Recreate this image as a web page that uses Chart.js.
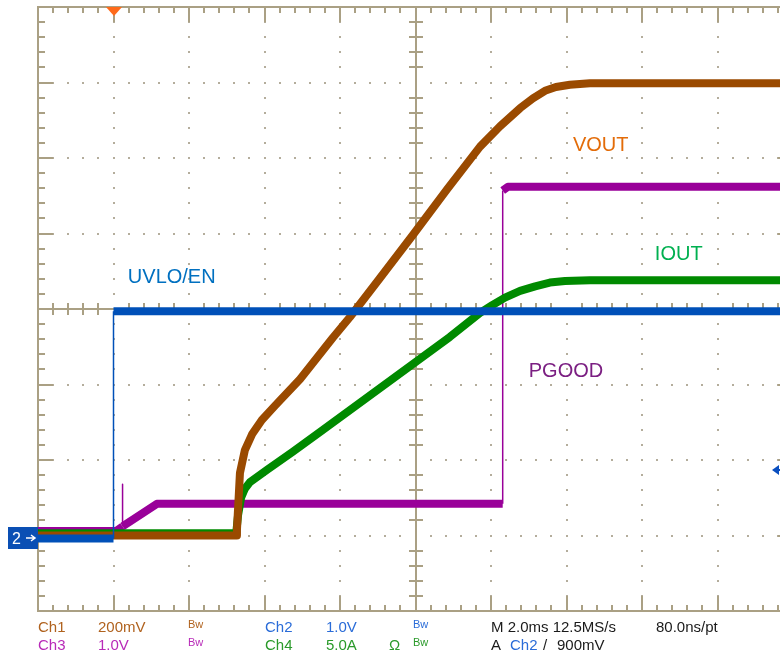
<!DOCTYPE html>
<html>
<head>
<meta charset="utf-8">
<script src="https://cdn.jsdelivr.net/npm/chart.js@4.4.1/dist/chart.umd.min.js"></script>
<style>
  html, body { margin: 0; padding: 0; background: #fff; }
  #wrap { width: 780px; height: 656px; overflow: hidden; position: relative; }
  canvas { display: block; }
</style>
</head>
<body>
<div id="wrap"><canvas id="scope" width="800" height="656"></canvas></div>
<script>
// time axis in ms (2 ms/div, 10 div), vertical axis in screen divisions (8 div)

// Ch2 UVLO/EN
const tUvlo = [0, 2.0, 2.0, 20];
const uvloEn = [0.96, 0.96, 3.97, 3.97];

// Ch1 VOUT
const tVout = [0, 5.25, 5.27, 5.35, 5.48, 5.67, 5.93, 6.28, 6.94, 7.81, 8.26, 9.06, 9.93, 10.83, 11.71, 12.24, 12.77, 13.11, 13.43, 13.72, 14.09, 14.62, 20];
const vout = [1.0, 1.0, 1.07, 1.83, 2.13, 2.34, 2.53, 2.72, 3.07, 3.62, 3.89, 4.41, 4.98, 5.58, 6.15, 6.42, 6.66, 6.79, 6.89, 6.94, 6.97, 6.99, 6.99];

// Ch4 IOUT
const tIout = [0, 5.25, 5.30, 5.38, 5.48, 5.62, 6.07, 6.75, 7.47, 10.91, 11.71, 12.03, 12.37, 12.77, 13.17, 13.56, 13.96, 14.62, 20];
const iout = [1.03, 1.03, 1.27, 1.50, 1.62, 1.71, 1.87, 2.11, 2.37, 3.63, 3.95, 4.05, 4.15, 4.24, 4.30, 4.35, 4.37, 4.38, 4.38];

// Ch3 PGOOD
const tPgood = [0, 2.07, 2.24, 2.24, 2.24, 3.15, 12.31, 12.31, 12.45, 20];
const pgood = [1.06, 1.06, 1.12, 1.68, 1.12, 1.42, 1.42, 5.57, 5.62, 5.62];

// annotations: [text, x (ms), y (div), colour]
const traceLabels = [
  ['VOUT', 14.17, 6.09, '#e36c09'],
  ['IOUT', 16.34, 4.65, '#00b050'],
  ['UVLO/EN', 2.38, 4.34, '#0070c0'],
  ['PGOOD', 13.0, 3.10, '#7b1f82']
];

const triggerTime = 2.0;   // ms
const triggerLevel = 1.87; // div (900 mV on Ch2)
const ch2Ground = 0.97;    // div

const pts = (xs, ys) => xs.map((x, i) => ({ x: x, y: ys[i] }));

// vertical jumps are thin, noisy flat/sloped parts are thick
const segWidth = ctx => (ctx.p0.parsed.x === ctx.p1.parsed.x ? 1.5 : 8);

const trace = (label, data, color) => ({
  label: label,
  data: data,
  borderColor: color,
  borderWidth: 8,
  pointRadius: 0,
  tension: 0,
  borderCapStyle: 'butt',
  borderJoinStyle: 'round',
  segment: { borderWidth: segWidth }
});

const GRID = '#aaa084';
const DOT = '#b4ad9c';

const graticule = {
  id: 'graticule',
  beforeDatasetsDraw(chart) {
    const c = chart.ctx;
    const xs = chart.scales.x, ys = chart.scales.y;
    const px = v => Math.round(xs.getPixelForValue(v));
    const py = v => Math.round(ys.getPixelForValue(v));
    c.save();
    // dotted major lines
    c.fillStyle = DOT;
    for (let i = 1; i < 10; i++) {
      if (i === 5) continue;
      for (let k = 0; k <= 40; k++) c.fillRect(px(i * 2) - 1, py(k * 0.2) - 1, 2, 2);
    }
    for (let j = 1; j < 8; j++) {
      if (j === 4) continue;
      for (let k = 0; k <= 50; k++) c.fillRect(px(k * 0.4) - 1, py(j) - 1, 2, 2);
    }
    // center cross and border
    c.strokeStyle = GRID;
    c.lineWidth = 2;
    const L = px(0), R = px(20), T = py(8), B = py(0), CX = px(10), CY = py(4);
    c.beginPath();
    c.moveTo(L, T); c.lineTo(R, T); c.lineTo(R, B); c.lineTo(L, B); c.closePath();
    c.moveTo(CX, T); c.lineTo(CX, B);
    c.moveTo(L, CY); c.lineTo(R, CY);
    // ticks along horizontal edges and center
    for (let k = 1; k < 50; k++) {
      const x = px(k * 0.4);
      const major = k % 5 === 0;
      const len = major ? 15 : 6;
      c.moveTo(x, T); c.lineTo(x, T + len);
      c.moveTo(x, B); c.lineTo(x, B - len);
      if (!major) { c.moveTo(x, CY - 6); c.lineTo(x, CY + 6); }
    }
    for (let k = 1; k < 40; k++) {
      const y = py(k * 0.2);
      const major = k % 5 === 0;
      const len = major ? 15 : 7;
      c.moveTo(L, y); c.lineTo(L + len, y);
      c.moveTo(R, y); c.lineTo(R - len, y);
      if (!major) { c.moveTo(CX - 7, y); c.lineTo(CX + 7, y); }
    }
    c.stroke();
    c.restore();
  },
  afterDatasetsDraw(chart) {
    const c = chart.ctx;
    const xs = chart.scales.x, ys = chart.scales.y;
    c.save();
    c.font = '20px "Liberation Sans", Arial, sans-serif';
    c.textBaseline = 'alphabetic';
    traceLabels.forEach(([txt, x, y, col]) => {
      c.fillStyle = col;
      c.fillText(txt, xs.getPixelForValue(x), ys.getPixelForValue(y));
    });

    // trigger position marker (top)
    const tx = Math.round(xs.getPixelForValue(triggerTime));
    const top = Math.round(ys.getPixelForValue(8));
    c.fillStyle = '#ff6a1a';
    c.beginPath();
    c.moveTo(tx - 8, top); c.lineTo(tx + 8, top); c.lineTo(tx, top + 9); c.closePath();
    c.fill();

    // Ch2 ground marker (left)
    const gy = Math.round(ys.getPixelForValue(ch2Ground));
    const left = Math.round(xs.getPixelForValue(0));
    c.fillStyle = '#0a4fb4';
    c.fillRect(8, gy - 11, left - 8, 22);
    c.fillStyle = '#fff';
    c.font = '16px "Liberation Sans", Arial, sans-serif';
    c.fillText('2', 12, gy + 6);
    c.strokeStyle = '#fff';
    c.lineWidth = 1.5;
    c.beginPath();
    c.moveTo(26, gy); c.lineTo(35, gy);
    c.moveTo(31, gy - 3); c.lineTo(35, gy); c.lineTo(31, gy + 3);
    c.stroke();

    // trigger level marker (right, clipped by the window)
    const ly = Math.round(ys.getPixelForValue(triggerLevel));
    c.fillStyle = '#0a4fc0';
    c.beginPath();
    c.moveTo(772, ly); c.lineTo(779, ly - 5); c.lineTo(779, ly + 5); c.closePath();
    c.fill();
    c.fillRect(776, ly - 1, 6, 2);
    c.restore();
  },
  afterDraw(chart) {
    const c = chart.ctx;
    c.save();
    const big = '15px "Liberation Sans", Arial, sans-serif';
    const small = '11px "Liberation Sans", Arial, sans-serif';
    const BROWN = '#b0621e', MAG = '#b82ab8', BLUE = '#2a6cd8', GRN = '#2a9a2a', BLK = '#1a1a1a';
    const row1 = 632, row2 = 650;
    const put = (txt, x, y, col, f) => { c.font = f || big; c.fillStyle = col; c.fillText(txt, x, y); };
    put('Ch1', 38, row1, BROWN); put('200mV', 98, row1, BROWN); put('Bw', 188, row1 - 4, BROWN, small);
    put('Ch2', 265, row1, BLUE); put('1.0V', 326, row1, BLUE); put('Bw', 413, row1 - 4, BLUE, small);
    put('M 2.0ms 12.5MS/s', 491, row1, BLK); put('80.0ns/pt', 656, row1, BLK);
    put('Ch3', 38, row2, MAG); put('1.0V', 98, row2, MAG); put('Bw', 188, row2 - 4, MAG, small);
    put('Ch4', 265, row2, GRN); put('5.0A', 326, row2, GRN); put('Ω', 389, row2, GRN); put('Bw', 413, row2 - 4, GRN, small);
    put('A', 491, row2, BLK); put('Ch2', 510, row2, BLUE); put('/', 543, row2, BLK); put('900mV', 557, row2, BLK);
    c.restore();
  }
};

new Chart(document.getElementById('scope'), {
  type: 'line',
  data: {
    datasets: [
      trace('UVLO/EN', pts(tUvlo, uvloEn), '#0050b8'),
      trace('VOUT', pts(tVout, vout), '#9a4a00'),
      trace('IOUT', pts(tIout, iout), '#008a00'),
      trace('PGOOD', pts(tPgood, pgood), '#990099')
    ]
  },
  options: {
    responsive: false,
    animation: false,
    events: [],
    layout: { padding: { left: 38, top: 7, right: 7, bottom: 45 } },
    scales: {
      x: { type: 'linear', min: 0, max: 20, display: false },
      y: { type: 'linear', min: 0, max: 8, display: false }
    },
    plugins: {
      legend: { display: false },
      tooltip: { enabled: false }
    }
  },
  plugins: [graticule]
});
</script>
</body>
</html>
